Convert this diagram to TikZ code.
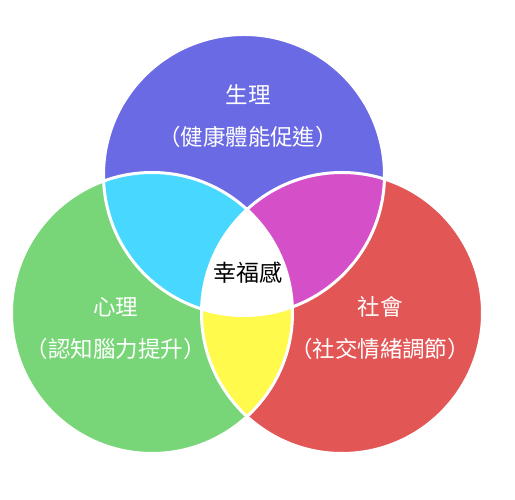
\documentclass[tikz,border=0pt]{standalone}
\usepackage{fontspec}
\setmainfont{Noto Sans CJK TC}
\definecolor{physblue}{RGB}{106,106,228}
\definecolor{mindgreen}{RGB}{120,214,120}
\definecolor{socred}{RGB}{227,86,86}
\definecolor{lapcyan}{RGB}{72,216,255}
\definecolor{lapmagenta}{RGB}{213,80,200}
\definecolor{lapyellow}{RGB}{255,250,75}

\begin{document}
\begin{tikzpicture}[
    x=1pt, y=1pt,
    % --- styles ---
    ring/.style  = {draw=white, line width=3pt},
    lbl/.style   = {text=white, align=center,
                    font=\fontsize{22.5}{42}\selectfont},
    core/.style  = {text=black, font=\fontsize{23}{28}\selectfont},
]

%============ CANVAS ============
\fill[white] (0,0) rectangle (515,500);
\useasboundingbox (0,0) rectangle (515,500);

%============ CIRCLE CENTRES ============
\coordinate (ctop)   at (244,325);
\coordinate (cleft)  at (152,187);
\coordinate (cright) at (342,187);
\def\rad{140.5pt}

%============ BASE CIRCLES ============
\fill[physblue]  (ctop)   circle[radius=\rad];
\fill[mindgreen] (cleft)  circle[radius=\rad];
\fill[socred]    (cright) circle[radius=\rad];

%============ PAIRWISE OVERLAPS ============
\begin{scope}
  \clip (ctop) circle[radius=\rad];
  \fill[lapcyan] (cleft) circle[radius=\rad];
\end{scope}
\begin{scope}
  \clip (ctop) circle[radius=\rad];
  \fill[lapmagenta] (cright) circle[radius=\rad];
\end{scope}
\begin{scope}
  \clip (cleft) circle[radius=\rad];
  \fill[lapyellow] (cright) circle[radius=\rad];
\end{scope}

% triple overlap
\begin{scope}
  \clip (ctop) circle[radius=\rad];
  \clip (cleft) circle[radius=\rad];
  \fill[white] (cright) circle[radius=\rad];
\end{scope}

%============ WHITE RINGS ============
\foreach \c in {ctop, cleft, cright}
  \draw[ring] (\c) circle[radius=\rad];

%============ LABELS ============
\node (phys)   [lbl] at (248,384)   {生理\\（健康體能促進）};
\node (mind)   [lbl] at (116,171.5) {心理\\（認知腦力提升）};
\node (social) [lbl] at (380,171.5) {社會\\（社交情緒調節）};
\node (happy)  [core] at (248,227)  {幸福感};

\end{tikzpicture}
\end{document}
